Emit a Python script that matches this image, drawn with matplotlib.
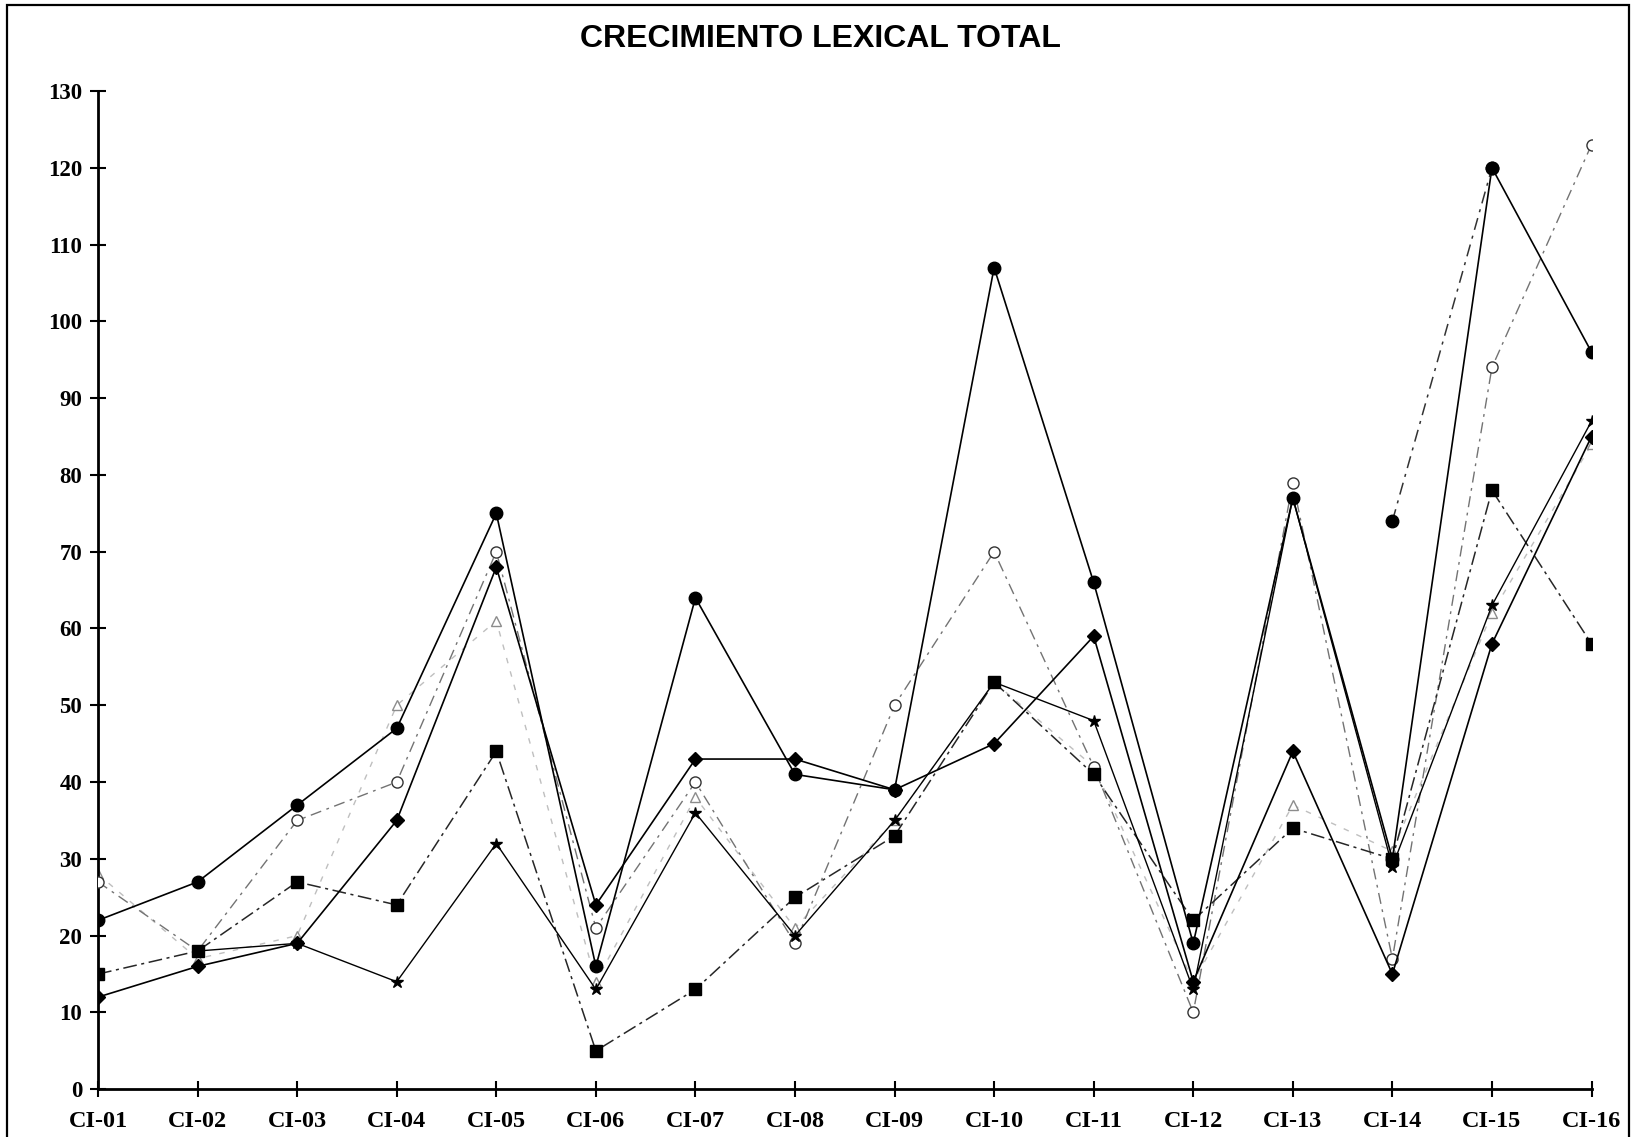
"""
Crecimiento lexical total: line chart of lexical growth per session.
"""
import numpy as np
from matplotlib import pyplot as plt
from matplotlib.patches import Rectangle

nan = np.nan

labels = ["CI-01", "CI-02", "CI-03", "CI-04", "CI-05", "CI-06", "CI-07",
          "CI-08", "CI-09", "CI-10", "CI-11", "CI-12", "CI-13", "CI-14",
          "CI-15", "CI-16"]

rombo = [12, 16, 19, 35, 68, 24, 43, 43, 39, 45, 59, 14, 44, 15, 58, 85]
cuadro = [15, 18, 27, 24, 44, 5, 13, 25, 33, 53, 41, 22, 34, 30, 78, 58]
triangulo = [28, 17, 20, 50, 61, 14, 38, 21, 35, 53, 42, 14, 37, 31, 62, 84]
circulo_abierto = [27, 18, 35, 40, 70, 21, 40, 19, 50, 70, 42, 10, 79, 17,
                   94, 123]
estrella = [nan, 18, 19, 14, 32, 13, 36, 20, 35, 53, 48, 13, 77, 29, 63, 87]
circulo = [22, 27, 37, 47, 75, 16, 64, 41, 39, 107, 66, 19, 77, 30, 120, 96]
circulo_2 = [nan] * 13 + [74, 120, nan]

yticks = list(range(0, 131, 10))


def main():
    fig = plt.figure(figsize=(16.34, 11.37), dpi=100)
    axs = fig.add_axes([0.060, 0.042, 0.914, 0.878])

    x = np.arange(len(labels))

    # faint series first, dark ones on top
    axs.plot(x, triangulo, color="0.75", lw=1.0, ls=(0, (4, 6)),
             marker="^", ms=7, mfc="white", mec="0.55", zorder=2)
    axs.plot(x, circulo_abierto, color="0.45", lw=1.0, ls=(0, (8, 4, 2, 4)),
             marker="o", ms=8, mfc="white", mec="0.2", zorder=3)
    axs.plot(x, cuadro, color="0.15", lw=1.1, ls=(0, (9, 3, 2, 3)),
             marker="s", ms=8, mfc="black", mec="black", zorder=4)
    axs.plot(x, estrella, color="black", lw=1.0,
             marker="*", ms=9, mfc="black", mec="black", zorder=4)
    axs.plot(x, rombo, color="black", lw=1.2,
             marker="D", ms=7, mfc="black", mec="black", zorder=5)
    axs.plot(x, circulo, color="black", lw=1.2,
             marker="o", ms=9, mfc="black", mec="black", zorder=5)
    axs.plot(x, circulo_2, color="0.2", lw=1.1, ls=(0, (8, 4, 2, 4)),
             marker="o", ms=9, mfc="black", mec="black", zorder=5)

    axs.set_xlim(0, len(labels) - 1)
    axs.set_ylim(0, 130)
    axs.set_xticks(x)
    axs.set_xticklabels(labels, family="Liberation Serif", fontsize=17.5)
    axs.set_yticks(yticks)
    axs.set_yticklabels([str(v) for v in yticks], family="Liberation Serif",
                        fontsize=16.5)

    for side in ("top", "right"):
        axs.spines[side].set_visible(False)
    for side in ("left", "bottom"):
        axs.spines[side].set_linewidth(2.0)
    axs.tick_params(axis="both", direction="inout", length=11, width=1.5,
                    colors="black")
    axs.tick_params(axis="x", pad=10)
    axs.tick_params(axis="y", pad=6)
    for lab in axs.get_xticklabels() + axs.get_yticklabels():
        lab.set_fontweight("bold")

    fig.text(0.502, 0.966, "CRECIMIENTO LEXICAL TOTAL", ha="center",
             va="center", family="Liberation Sans", fontsize=23,
             fontweight="bold")

    # outer frame of the chart area
    fig.patches.append(Rectangle((0.004, -0.02), 0.993, 1.0154,
                                 transform=fig.transFigure, fill=False,
                                 lw=1.6, ec="black"))

    plt.savefig("out.png", dpi=100)
    plt.close()


if __name__ == "__main__":
    main()
